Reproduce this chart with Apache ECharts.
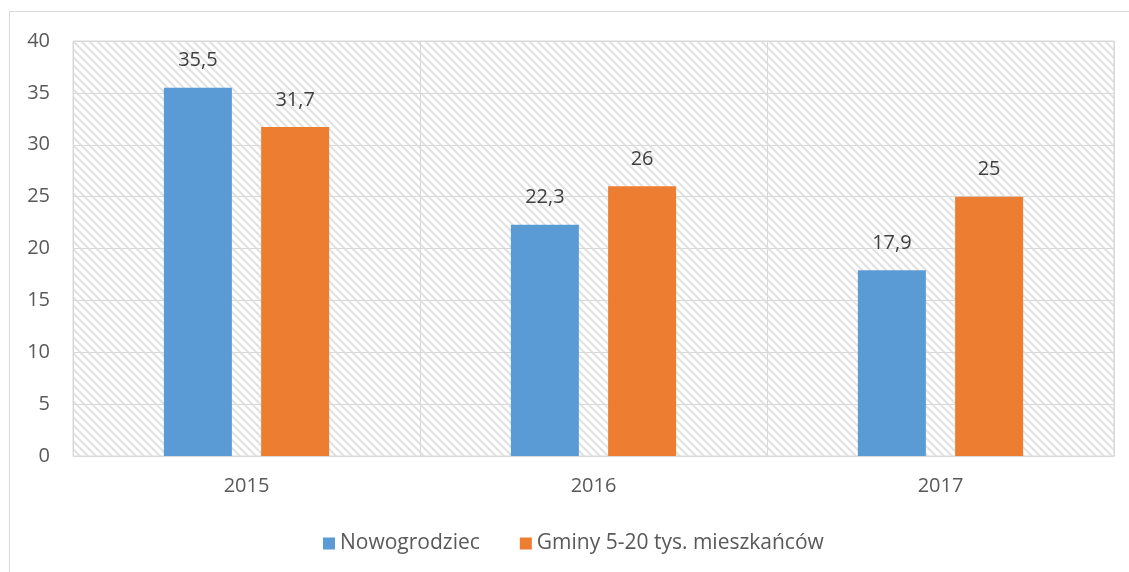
<!DOCTYPE html>
<html>
<head>
<meta charset="utf-8">
<script src="https://cdn.jsdelivr.net/npm/echarts@6/dist/echarts.min.js"></script>
<style>
  html, body { margin: 0; padding: 0; background: #fff; }
  #chartsDom { width: 1129px; height: 572px; }
</style>
</head>
<body>
<div id="chartsDom"></div>
<script>
// dane
const years = ["2015", "2016", "2017"];
const nowogrodziec = [35.5, 22.3, 17.9];
const gminy = [31.7, 26, 25];
const seriesNames = ["Nowogrodziec", "Gminy 5-20 tys. mieszkańców"];

// wzór ukośnych linii tła
function hatch() {
  const c = document.createElement("canvas");
  c.width = 8; c.height = 8;
  const ctx = c.getContext("2d");
  ctx.fillStyle = "#fff";
  ctx.fillRect(0, 0, 8, 8);
  ctx.strokeStyle = "#e2e2e2";
  ctx.lineWidth = 2.2;
  for (let k = -8; k <= 8; k += 8) {
    ctx.beginPath();
    ctx.moveTo(k - 1, -1);
    ctx.lineTo(k + 9, 9);
    ctx.stroke();
  }
  return c;
}

const font = "'Open Sans', 'Noto Sans', sans-serif";
const myChart = echarts.init(document.getElementById("chartsDom"));
const fmt = p => String(p.value).replace(".", ",");

let option = {
  animation: false,
  textStyle: { fontFamily: font },
  graphic: [{
    type: "rect",
    shape: { x: 9.5, y: 11.5, width: 1140, height: 600 },
    style: { fill: "none", stroke: "#d9d9d9", lineWidth: 1 },
    silent: true
  }],
  grid: {
    left: 73, right: 15, top: 41, bottom: 116,
    show: true,
    backgroundColor: { image: hatch(), repeat: "repeat" },
    borderColor: "#d9d9d9",
    borderWidth: 1
  },
  legend: {
    data: seriesNames,
    top: 528,
    left: 318,
    itemWidth: 12,
    itemHeight: 12,
    itemGap: 40,
    icon: "rect",
    textStyle: { fontSize: 21, color: "#595959", fontFamily: font }
  },
  xAxis: {
    type: "category",
    data: years,
    axisLine: { lineStyle: { color: "#d9d9d9" } },
    axisTick: { show: false },
    splitLine: { show: true, lineStyle: { color: "#d9d9d9", width: 1 } },
    axisLabel: { fontSize: 20, color: "#595959", margin: 20 }
  },
  yAxis: {
    type: "value",
    min: 0, max: 40, interval: 5,
    axisLine: { show: false },
    axisTick: { show: false },
    splitLine: { lineStyle: { color: "#d9d9d9", width: 1 } },
    axisLabel: { fontSize: 20, color: "#595959", margin: 23 }
  },
  series: [
    {
      name: seriesNames[0],
      type: "bar",
      data: nowogrodziec,
      barWidth: 68,
      barGap: "43%",
      itemStyle: { color: "#5b9bd5" },
      label: { show: true, position: "top", distance: 17, fontSize: 20, color: "#404040", formatter: fmt }
    },
    {
      name: seriesNames[1],
      type: "bar",
      data: gminy,
      barWidth: 68,
      itemStyle: { color: "#ed7d31" },
      label: { show: true, position: "top", distance: 17, fontSize: 20, color: "#404040", formatter: fmt }
    }
  ]
};
option && myChart.setOption(option);
</script>
</body>
</html>
